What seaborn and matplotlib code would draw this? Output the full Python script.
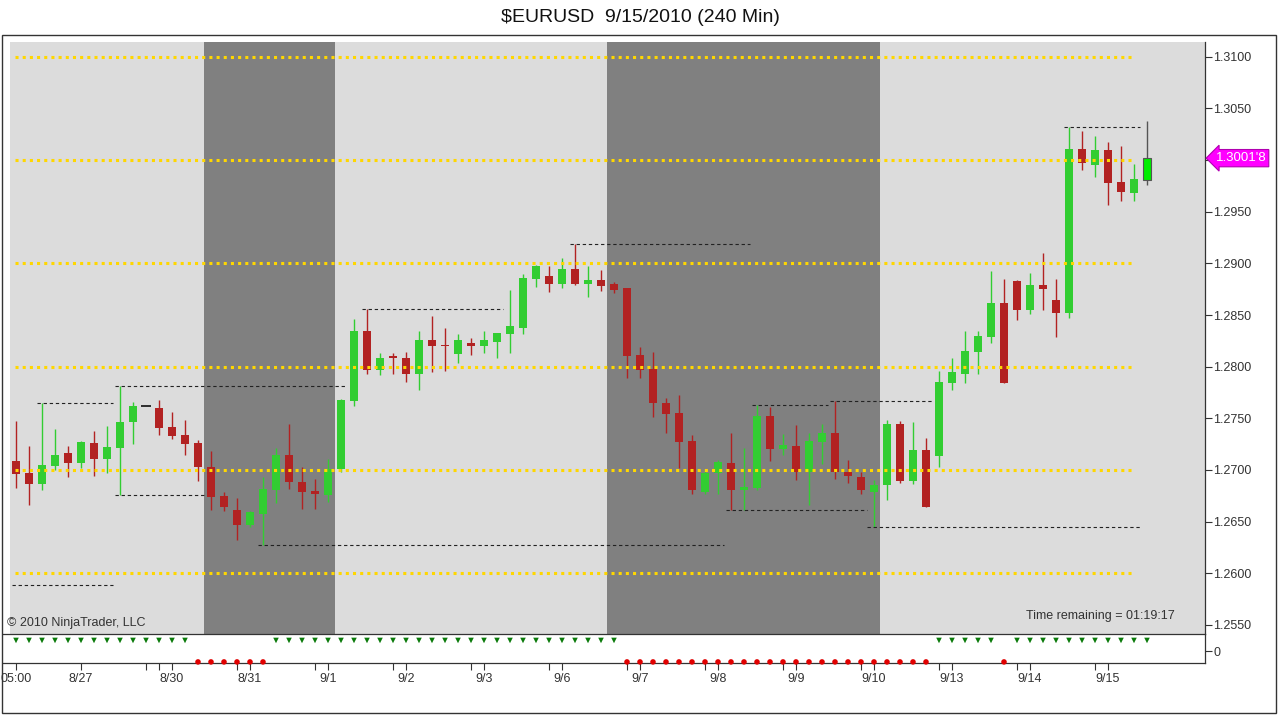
import numpy as np
import pandas as pd
import matplotlib
matplotlib.use("Agg")
import matplotlib.pyplot as plt
import matplotlib.transforms as mtransforms
from matplotlib.patches import Rectangle
import seaborn as sns

# ---------------- data ----------------
opens = [1.2709, 1.2697, 1.2686, 1.2704, 1.2716, 1.2707, 1.2726, 1.2711, 1.2721, 1.2746,
         1.2762, 1.2760, 1.2742, 1.2734, 1.2726, 1.2703, 1.2675, 1.2661, 1.2647, 1.2657,
         1.2681, 1.2715, 1.2688, 1.2680, 1.2676, 1.2701, 1.2767, 1.2835, 1.2797, 1.2810,
         1.2808, 1.2793, 1.2826, 1.2821, 1.2812, 1.2823, 1.2820, 1.2824, 1.2832, 1.2837,
         1.2885, 1.2888, 1.2880, 1.2895, 1.2880, 1.2884, 1.2880, 1.2876, 1.2811, 1.2798,
         1.2765, 1.2755, 1.2728, 1.2679, 1.2697, 1.2707, 1.2681, 1.2683, 1.2752, 1.2720,
         1.2723, 1.2698, 1.2727, 1.2736, 1.2698, 1.2693, 1.2679, 1.2685, 1.2745, 1.2689,
         1.2719, 1.2714, 1.2784, 1.2793, 1.2814, 1.2829, 1.2862, 1.2883, 1.2855, 1.2879,
         1.2865, 1.2852, 1.3011, 1.2995, 1.3010, 1.2979, 1.2968, 1.2981]
highs = [1.2747, 1.2723, 1.2765, 1.2740, 1.2723, 1.2728, 1.2738, 1.2743, 1.2781, 1.2766,
         1.2762, 1.2768, 1.2756, 1.2748, 1.2729, 1.2718, 1.2679, 1.2673, 1.2660, 1.2693,
         1.2721, 1.2745, 1.2703, 1.2691, 1.2711, 1.2769, 1.2846, 1.2856, 1.2813, 1.2813,
         1.2814, 1.2835, 1.2849, 1.2837, 1.2832, 1.2828, 1.2835, 1.2833, 1.2874, 1.2890,
         1.2898, 1.2897, 1.2905, 1.2919, 1.2897, 1.2894, 1.2882, 1.2876, 1.2819, 1.2814,
         1.2770, 1.2773, 1.2734, 1.2700, 1.2710, 1.2736, 1.2721, 1.2763, 1.2761, 1.2735,
         1.2744, 1.2736, 1.2745, 1.2767, 1.2710, 1.2698, 1.2690, 1.2748, 1.2747, 1.2746,
         1.2731, 1.2796, 1.2808, 1.2835, 1.2835, 1.2893, 1.2885, 1.2884, 1.2891, 1.2910,
         1.2885, 1.3032, 1.3028, 1.3023, 1.3017, 1.3014, 1.2996, 1.3038]
lows = [1.2683, 1.2666, 1.2681, 1.2700, 1.2693, 1.2702, 1.2694, 1.2697, 1.2676, 1.2725,
        1.2762, 1.2734, 1.2730, 1.2715, 1.2689, 1.2661, 1.2660, 1.2632, 1.2645, 1.2627,
        1.2668, 1.2682, 1.2662, 1.2662, 1.2669, 1.2698, 1.2762, 1.2793, 1.2792, 1.2793,
        1.2785, 1.2777, 1.2795, 1.2796, 1.2804, 1.2811, 1.2813, 1.2808, 1.2813, 1.2832,
        1.2877, 1.2872, 1.2876, 1.2879, 1.2867, 1.2873, 1.2871, 1.2789, 1.2789, 1.2751,
        1.2736, 1.2702, 1.2677, 1.2677, 1.2677, 1.2661, 1.2661, 1.2681, 1.2709, 1.2715,
        1.2690, 1.2666, 1.2706, 1.2691, 1.2687, 1.2677, 1.2645, 1.2671, 1.2687, 1.2686,
        1.2664, 1.2703, 1.2777, 1.2784, 1.2793, 1.2823, 1.2784, 1.2845, 1.2851, 1.2855,
        1.2829, 1.2847, 1.2990, 1.2984, 1.2956, 1.2960, 1.2960, 1.2976]
closes = [1.2696, 1.2686, 1.2705, 1.2715, 1.2707, 1.2727, 1.2711, 1.2722, 1.2746, 1.2762,
          1.2762, 1.2741, 1.2733, 1.2725, 1.2703, 1.2674, 1.2664, 1.2647, 1.2659, 1.2682,
          1.2715, 1.2688, 1.2679, 1.2677, 1.2701, 1.2768, 1.2835, 1.2797, 1.2808, 1.2808,
          1.2793, 1.2826, 1.2820, 1.2820, 1.2826, 1.2820, 1.2826, 1.2833, 1.2839, 1.2886,
          1.2897, 1.2880, 1.2895, 1.2880, 1.2884, 1.2878, 1.2874, 1.2810, 1.2797, 1.2765,
          1.2754, 1.2727, 1.2681, 1.2697, 1.2708, 1.2681, 1.2684, 1.2752, 1.2720, 1.2724,
          1.2698, 1.2728, 1.2736, 1.2698, 1.2694, 1.2681, 1.2685, 1.2745, 1.2689, 1.2719,
          1.2664, 1.2785, 1.2795, 1.2815, 1.2830, 1.2862, 1.2784, 1.2855, 1.2879, 1.2875,
          1.2852, 1.3011, 1.2997, 1.3010, 1.2978, 1.2969, 1.2982, 1.30018]

# indicator signal per bar (+1 = up marker, -1 = down marker)
signal = [1, 1, 1, 1, 1, 1, 1, 1, 1, 1, 1, 1, 1, 1,
          -1, -1, -1, -1, -1, -1,
          1, 1, 1, 1, 1, 1, 1, 1, 1, 1, 1, 1, 1, 1, 1, 1, 1, 1, 1, 1, 1, 1, 1, 1, 1, 1, 1,
          -1, -1, -1, -1, -1, -1, -1, -1, -1, -1, -1, -1, -1, -1, -1, -1, -1, -1, -1, -1, -1, -1, -1, -1,
          1, 1, 1, 1, 1,
          -1,
          1, 1, 1, 1, 1, 1, 1, 1, 1, 1, 1]

# session shading (bar ranges)
dark_start = [14.5, 45.5]
dark_end = [24.55, 66.5]

# round-number levels
round_levels = [1.2600, 1.2700, 1.2800, 1.2900, 1.3000, 1.3100]
round_from, round_to = -0.1, 85.9

# swing high / low dashed levels
swing_price = [1.2765, 1.2781, 1.2676, 1.2627, 1.2589, 1.2856, 1.2919, 1.2763, 1.2767, 1.2661, 1.2645, 1.3032]
swing_from = [1.6, 7.6, 7.6, 18.6, -0.3, 26.6, 42.6, 56.6, 62.6, 54.6, 65.5, 80.6]
swing_to = [7.5, 25.5, 14.5, 54.5, 7.5, 37.5, 56.5, 62.5, 70.5, 65.5, 86.5, 86.5]

# x axis labels
tick_pos = [0, 5, 12, 18, 24, 30, 36, 42, 48, 54, 60, 66, 72, 78, 84]
tick_labels = ["05:00", "8/27", "8/30", "8/31", "9/1", "9/2", "9/3", "9/6", "9/7",
               "9/8", "9/9", "9/10", "9/13", "9/14", "9/15"]
minor_pos = [10, 11, 17, 23, 29, 35, 41, 47, 53, 59, 65, 71, 77, 83]

y_ticks = [1.2550, 1.2600, 1.2650, 1.2700, 1.2750, 1.2800, 1.2850,
           1.2900, 1.2950, 1.3000, 1.3050, 1.3100]
last_label = "1.3001'8"
title = "$EURUSD  9/15/2010 (240 Min)"

# ---------------- style ----------------
sns.set_theme(style="white")
plt.rcParams['font.family'] = ['Liberation Sans', 'DejaVu Sans']

W, H = 1280, 715
fig = plt.figure(figsize=(W / 100, H / 100), dpi=100)
fig.patch.set_facecolor('white')

def fx(px):
    return px / W

def fy(py):
    return 1 - py / H

UP = '#32cd32'
DN = '#b22222'
EDGE = '#333333'

ax = fig.add_axes([fx(10), fy(634), fx(1195), (634 - 42) / H])
ax2 = fig.add_axes([fx(3), fy(663), fx(1202), (663 - 634) / H])

df = pd.DataFrame({'open': opens, 'high': highs, 'low': lows, 'close': closes})
df['bar'] = np.arange(len(df))
n = len(df)

def candle_color(o, c):
    if c > o:
        return UP
    if c < o:
        return DN
    return '#222222'

colors = [candle_color(o, c) for o, c in zip(df['open'], df['close'])]
wick_colors = list(colors)
body_colors = list(colors)
body_edges = list(colors)
# current (forming) bar highlighted
body_colors[-1] = '#00ee00'
body_edges[-1] = '#555555'
wick_colors[-1] = '#555555'

ax.set_facecolor('#dcdcdc')
for s, e in zip(dark_start, dark_end):
    ax.axvspan(s, e, color='#808080', zorder=0, lw=0)

ax.vlines(df['bar'], df['low'], df['high'], colors=wick_colors, lw=1.0, zorder=2)
body_lo = np.minimum(df['open'], df['close'])
body_h = np.abs(df['close'] - df['open'])
mask = body_h > 0
ax.bar(df['bar'][mask], body_h[mask], bottom=body_lo[mask], width=0.54,
       color=[body_colors[i] for i in range(n) if mask[i]],
       edgecolor=[body_edges[i] for i in range(n) if mask[i]],
       linewidth=[0.8 if i == n - 1 else 0 for i in range(n) if mask[i]], zorder=3)
for i in range(n):
    if not mask[i]:
        ax.hlines(df['open'][i], i - 0.4, i + 0.4, colors='#111111', lw=1.2, zorder=3)

for lv in round_levels:
    ax.hlines(lv, round_from, round_to, colors='#ffd700', lw=2.2,
              linestyles=(0, (1.0, 1.35)), zorder=4)

for p, a, b in zip(swing_price, swing_from, swing_to):
    ax.hlines(p, a, b, colors='#222222', lw=0.8, linestyles=(0, (3, 2.5)), zorder=4)

ax.set_xlim(-6 / 13, 1189 / 13)
ax.set_ylim(1.27 - 164 / 10333, 1.27 + 428 / 10333)
ax.set_xticks([])
ax.yaxis.tick_right()
ax.set_yticks(y_ticks)
# the 1.3000 label is hidden behind the last-price tag in the reference
ax.set_yticklabels(["" if abs(v - 1.30) < 1e-9 else f"{v:.4f}" for v in y_ticks])
ax.tick_params(axis='y', which='both', direction='out', length=5, width=0.8,
               color=EDGE, labelcolor='#333333', labelsize=9, pad=1, right=True, left=False)
for side in ['top', 'left', 'bottom']:
    ax.spines[side].set_visible(False)
ax.spines['right'].set_color(EDGE)
ax.spines['right'].set_linewidth(0.9)
ax.grid(False)

# last price tag
trans = mtransforms.blended_transform_factory(ax.transAxes, ax.transData)
ax.text(1.0088, closes[-1], last_label, transform=trans, ha='left', va='center',
        fontsize=9.5, color='white', clip_on=False, zorder=10,
        bbox=dict(boxstyle='larrow,pad=0.2', fc='#ff00ff', ec='#b000b0', lw=0.8))

# ---------------- indicator panel ----------------
sig = pd.DataFrame({'bar': np.arange(len(signal)), 'val': signal})
sig['kind'] = np.where(sig['val'] > 0, 'up', 'dn')
sns.scatterplot(data=sig, x='bar', y='val', hue='kind', style='kind',
                palette={'up': '#0a7a0a', 'dn': '#e00000'},
                markers={'up': 'v', 'dn': 'o'}, s=16, linewidth=0,
                legend=False, ax=ax2, zorder=3, clip_on=False)
ax2.set_facecolor('white')
ax2.set_xlim(-13 / 13, 1189 / 13)
ax2.set_ylim(-1.1, 1.6)
ax2.set_xlabel('')
ax2.set_ylabel('')
ax2.yaxis.tick_right()
ax2.set_yticks([0])
ax2.set_yticklabels(['0'])
ax2.set_xticks(tick_pos)
ax2.set_xticklabels(tick_labels)
ax2.set_xticks(minor_pos, minor=True)
ax2.tick_params(axis='x', which='both', direction='out', length=5, width=0.8,
                color=EDGE, labelcolor='#333333', labelsize=9, pad=2, bottom=True)
ax2.tick_params(axis='y', direction='out', length=5, width=0.8, color=EDGE,
                labelcolor='#333333', labelsize=9, pad=1, right=True, left=False)
ax2.spines['left'].set_visible(False)
for side in ['top', 'bottom', 'right']:
    ax2.spines[side].set_color(EDGE)
    ax2.spines[side].set_linewidth(0.9)
ax2.grid(False)

# ---------------- texts & frame ----------------
fig.text(0.5, fy(17), title, ha='center', va='center', fontsize=14, color='#111111')
fig.text(fx(7), fy(623), "\u00a9 2010 NinjaTrader, LLC", ha='left', va='center',
         fontsize=9, color='#333333')
fig.text(fx(1175), fy(616), "Time remaining = 01:19:17", ha='right', va='center',
         fontsize=9, color='#333333')
fig.add_artist(Rectangle((fx(2), fy(713)), fx(1274), 678 / H, transform=fig.transFigure,
                         fill=False, ec=EDGE, lw=1.0))

fig.savefig('out.png', dpi=100, facecolor='white')
